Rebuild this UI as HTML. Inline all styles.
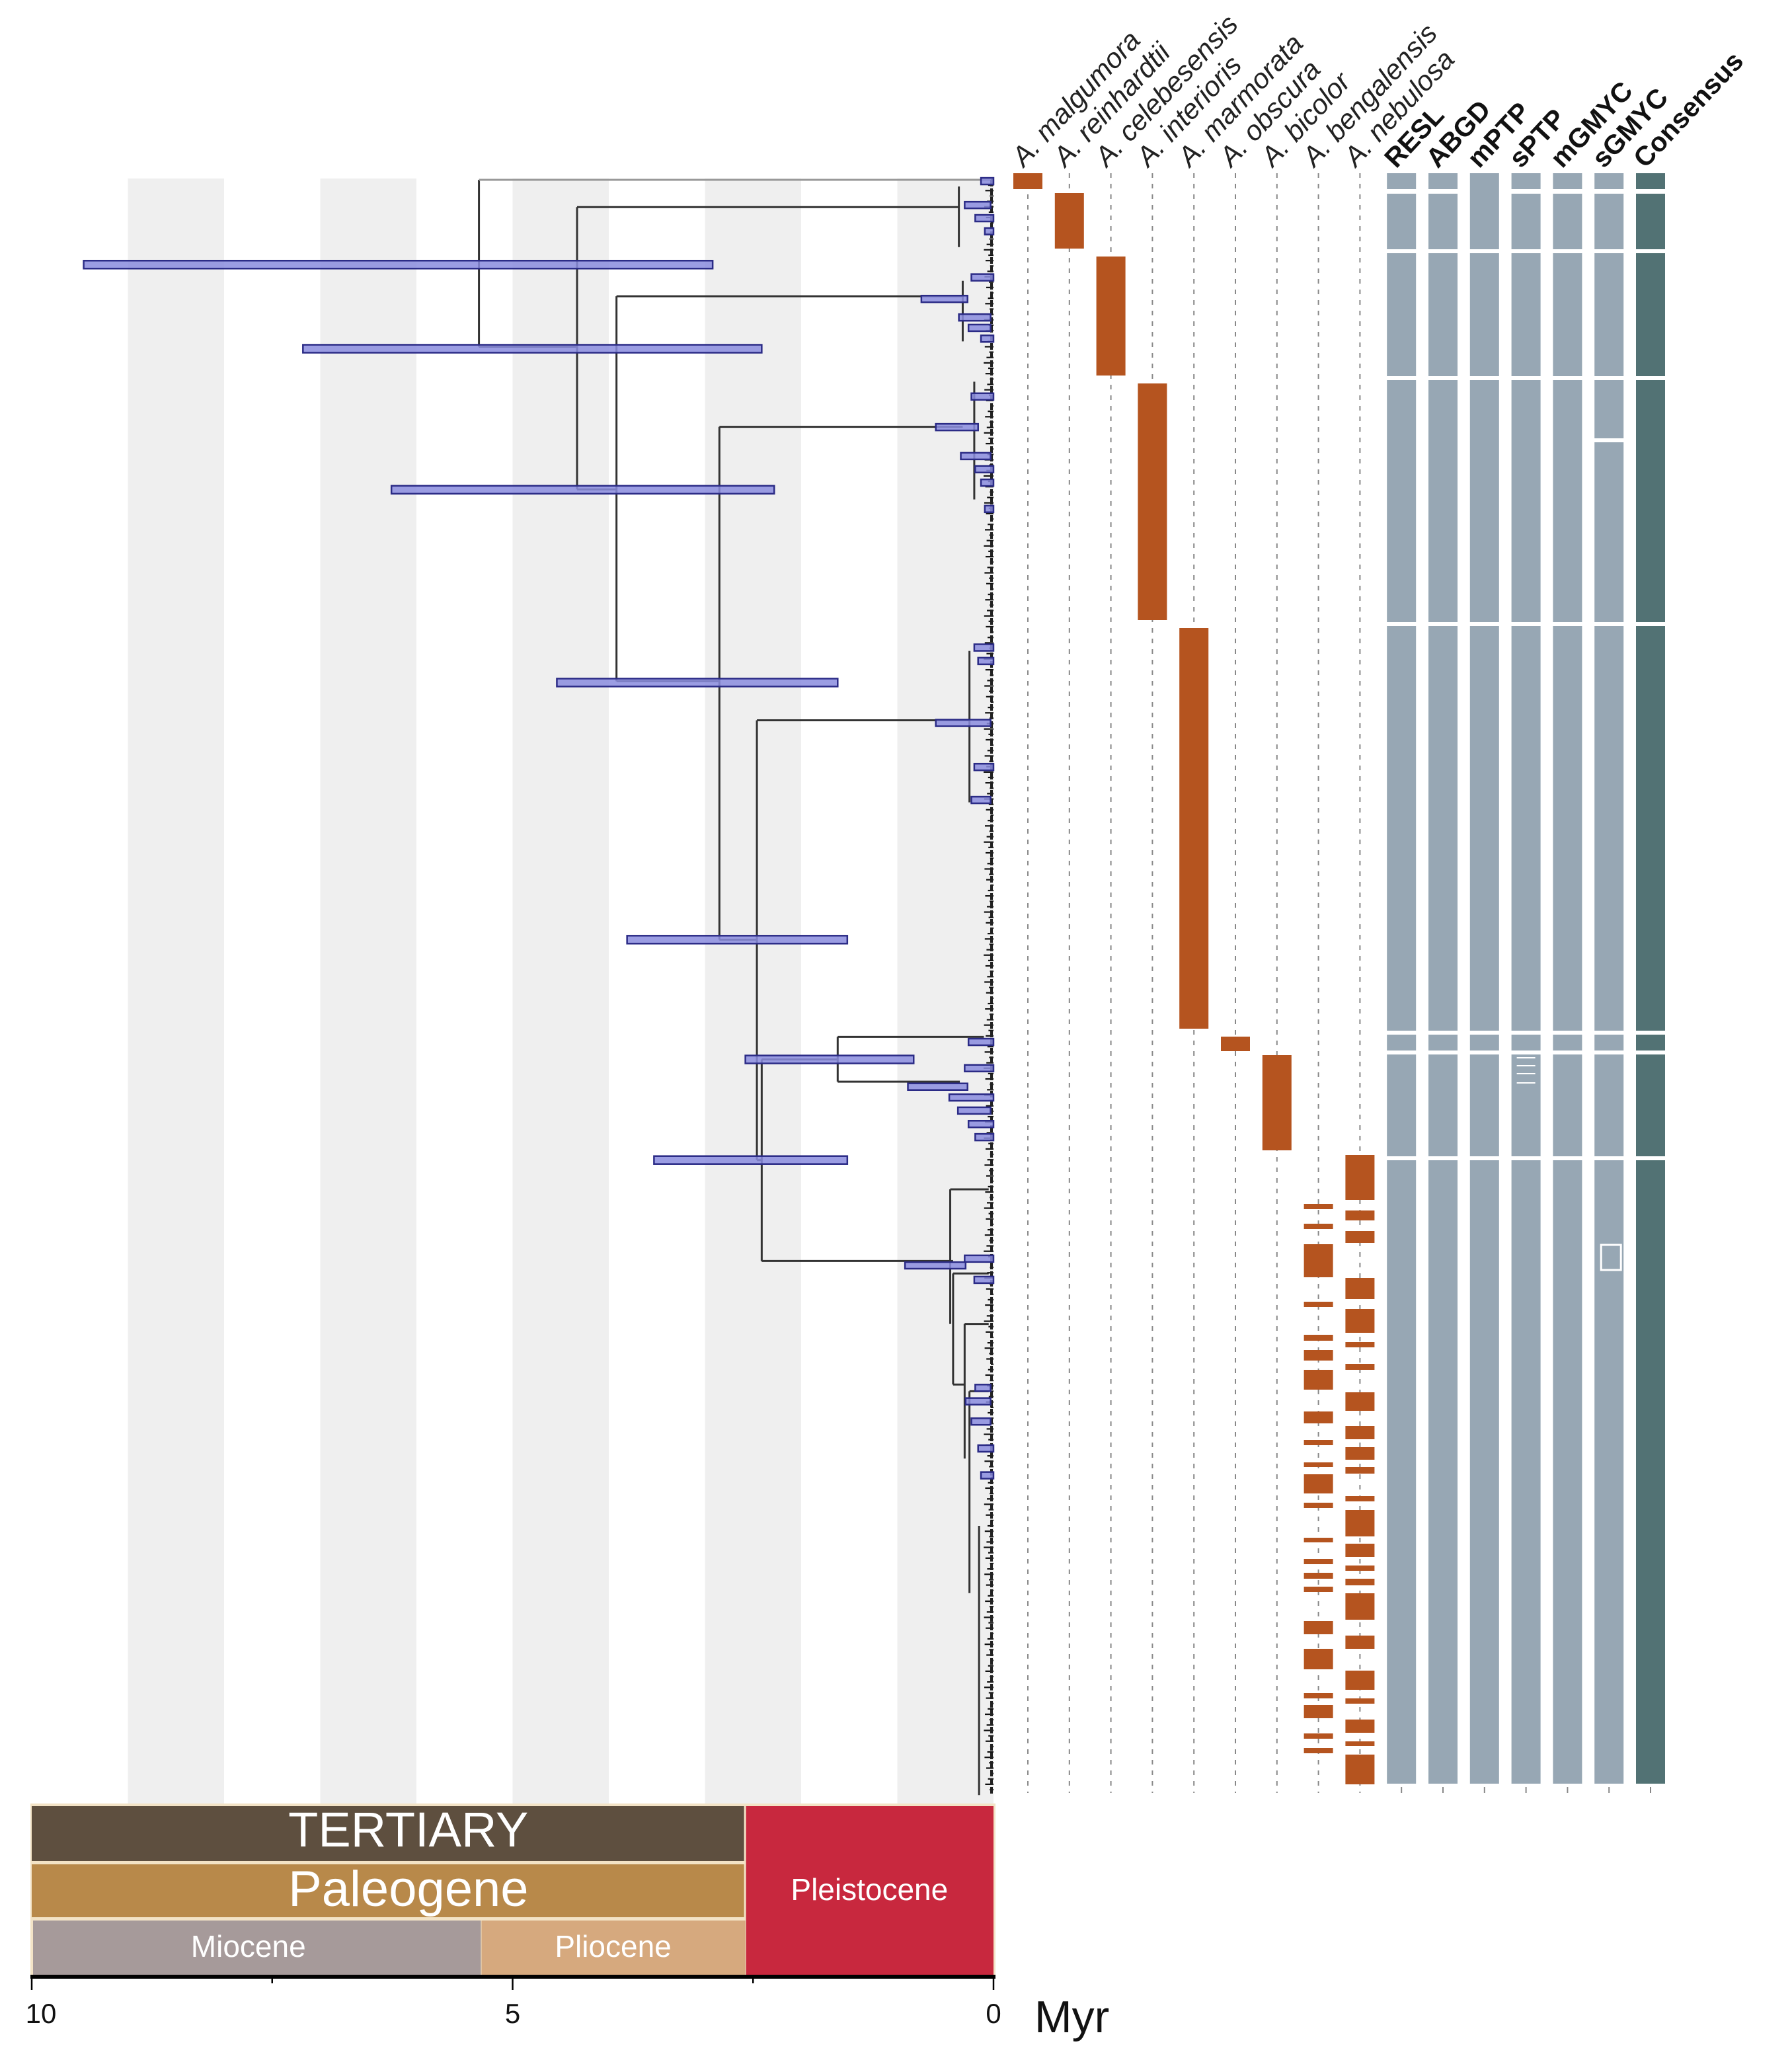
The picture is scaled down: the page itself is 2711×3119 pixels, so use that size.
<!DOCTYPE html>
<html><head><meta charset="utf-8"><style>
html,body{margin:0;padding:0;background:#fff;}
svg{display:block;}
</style></head>
<body>
<svg id="fig" xmlns="http://www.w3.org/2000/svg" width="2711" height="3119" viewBox="0 0 2711 3119" font-family="Liberation Sans, Arial, sans-serif">
<g id="bands"></g>
<g id="tree"></g>
<g id="cols"></g>
<g id="labels"></g>
<g id="scale"></g>
</svg>
<script>
// ---- data ----
const bandStarts = [9, 7, 5, 3, 1];
const axisTicks = [10, 7.5, 5, 2.5, 0];
const axisTickLabels = ["10", "", "5", "", "0"];
const epochNames = ["Miocene", "Pliocene", "Pleistocene"];
const epochStart = [10, 5.33, 2.58];
const epochEnd = [5.33, 2.58, 0];
// tree: verticals [age, rowTop, rowBottom]
const vAge = [5.35, 4.33, 3.92, 2.85, 2.46, 2.41, 1.62, 0.45, 0.42, 0.30, 0.25, 0.15, 0.36, 0.32, 0.25, 0.20];
const vTop = [0, 8.1, 34.6, 73.4, 160.6, 261.4, 254.7, 300, 325, 340, 360, 400, 2, 30, 140, 60];
const vBot = [49.6, 92, 149, 225.8, 291.3, 321.3, 268, 340, 358, 380, 420, 480, 20, 48, 185, 95];
// horizontals [fromAge, toAge, row]
const hFrom = [5.35, 5.35, 4.33, 4.33, 3.92, 3.92, 2.85, 2.85, 2.46, 2.46, 2.41, 2.41, 1.62, 1.62, 0.45, 0.45, 0.42, 0.42, 0.30, 0.25];
const hTo = [0, 4.33, 0.36, 3.92, 0.32, 2.85, 0.32, 2.46, 0.25, 2.41, 1.62, 0.45, 0.1, 0.35, 0.05, 0.42, 0.05, 0.30, 0.05, 0.05];
const hRow = [0, 49.6, 8.1, 92, 34.6, 149, 73.4, 225.8, 160.6, 291.3, 261.4, 321.3, 254.7, 268, 300, 321.3, 325, 358, 340, 360];
// node age 95% HPD bars [older, younger, row]
const ciHi = [9.46, 7.18, 6.26, 4.54, 3.81, 2.58, 3.53, 0.13, 0.30, 0.19, 0.09, 0.75, 0.23, 0.36, 0.26, 0.13, 0.60, 0.23, 0.34, 0.19, 0.13, 0.09, 0.20, 0.60, 0.16, 0.23, 0.20, 0.26, 0.30, 0.89, 0.46, 0.37, 0.26, 0.19, 0.92, 0.30, 0.20, 0.19, 0.29, 0.23, 0.16, 0.13];
const ciLo = [2.92, 2.41, 2.28, 1.62, 1.52, 0.83, 1.52, 0, 0.03, 0, 0, 0.27, 0, 0.03, 0.03, 0, 0.16, 0, 0.03, 0, 0, 0, 0, 0.03, 0, 0.03, 0, 0, 0, 0.27, 0, 0.03, 0, 0, 0.29, 0, 0, 0.03, 0.03, 0.03, 0, 0];
const ciRow = [25.2, 50.2, 92.1, 149.4, 225.8, 261.4, 291.3, 0.4, 7.5, 11.4, 15.3, 35.4, 29, 40.9, 44, 47.2, 73.5, 64.4, 82.1, 86, 90, 97.8, 139, 161.4, 143, 184.3, 174.5, 256.2, 264, 269.5, 272.7, 276.6, 280.6, 284.5, 322.6, 320.6, 326.9, 359, 363, 369, 377, 385];
// species columns
const speciesNames = ["A. malgumora","A. reinhardtii","A. celebesensis","A. interioris","A. marmorata","A. obscura","A. bicolor","A. bengalensis","A. nebulosa"];
const methodNames = ["RESL","ABGD","mPTP","sPTP","mGMYC","sGMYC","Consensus"];
const spCol = [0,1,2,3,4,5,6];
const spStart = [262,292,388,580,950,1568,1596];
const spEnd = [286,376,568,938,1556,1590,1740];
const nebStart = [1747,1831,1862,1933,1980,2030,2063,2106,2157,2189,2219,2263,2284,2335,2368,2388,2410,2474,2527,2569,2601,2634,2654];
const nebEnd = [1815,1846,1880,1965,2016,2038,2072,2134,2177,2208,2229,2271,2324,2355,2376,2398,2450,2494,2556,2577,2621,2641,2699];
const benStart = [1821,1851,1882,1969,2019,2042,2072,2135,2178,2212,2230,2273,2326,2358,2379,2400,2452,2494,2561,2579,2622,2644];
const benEnd = [1829,1859,1932,1977,2028,2058,2102,2153,2186,2219,2259,2281,2333,2366,2388,2408,2472,2525,2569,2599,2630,2652];
const segStart = [262,293,383,575,947,1565,1595,1755];
const segEnd = [286,377,569,941,1559,1589,1749,2698];

// ---- scales ----
const NS = "http://www.w3.org/2000/svg";
const X0 = 1503, PXM = 145.5;
function xT(t){ return X0 - t*PXM; }
function yR(r){ return 272 + r*5.09; }
function colX(i){ return 1555 + i*62.8; }
function mk(parent, tag, attrs){
  const e = document.createElementNS(NS, tag);
  for (const k in attrs) e.setAttribute(k, attrs[k]);
  document.getElementById(parent).appendChild(e);
  return e;
}

bandStarts.forEach((b,i)=>{
  const r = mk('bands','rect',{x:xT(b),y:270,width:PXM,height:2732-270,fill:'#efefef'});
  
  
});

vAge.forEach((a,i)=>{
  const l = mk('tree','line',{x1:xT(a),x2:xT(a),y1:yR(vTop[i]),y2:yR(vBot[i]),stroke:'#333',"stroke-width":3});
  
  
});
hFrom.forEach((a,i)=>{
  const l = mk('tree','line',{x1:xT(a),x2:xT(hTo[i]),y1:yR(hRow[i]),y2:yR(hRow[i]),stroke:i===0?'#999':'#333',"stroke-width":3});
  
  
});
for (let r=0; r<=480; r+=1.6){
  const len = 4 + ((r*37)%11);
  const l = mk('tree','line',{x1:X0-len,x2:X0,y1:yR(r),y2:yR(r),stroke:'#111',"stroke-width":2.2});
  
  
}
const tipLine = mk('tree','line',{x1:X0-3,x2:X0-3,y1:yR(0),y2:yR(480),stroke:'#222',"stroke-width":4,"stroke-dasharray":"10 3"});


ciHi.forEach((h,i)=>{
  const big = i<7;
  const hh = big?12:10;
  const r = mk('tree','rect',{x:xT(h),y:yR(ciRow[i])-hh/2,width:Math.max(xT(ciLo[i])-xT(h),6),height:hh,fill:'#8a8cde',"fill-opacity":0.85,stroke:'#2b2b86',"stroke-width":2.5});
  
  
});

speciesNames.forEach((n,i)=>{
  const l = mk('cols','line',{x1:colX(i),x2:colX(i),y1:262,y2:2712,stroke:'#888',"stroke-width":2,"stroke-dasharray":"7 9"});
  
  
});
const ORG = '#b5541f';
spCol.forEach((c,i)=>{
  const r = mk('cols','rect',{x:colX(c)-22,y:spStart[i],width:44,height:spEnd[i]-spStart[i],fill:ORG});
  
  
});
benStart.forEach((s,i)=>{
  const r = mk('cols','rect',{x:colX(7)-22,y:s,width:44,height:benEnd[i]-s,fill:ORG});
  
  
});
nebStart.forEach((s,i)=>{
  const r = mk('cols','rect',{x:colX(8)-22,y:s,width:44,height:nebEnd[i]-s,fill:ORG});
  
  
});
methodNames.forEach((m,j)=>{
  const cx = colX(9+j);
  const col = j===6?'#527274':'#97a7b4';
  segStart.forEach((s,k)=>{
    let e = segEnd[k];
    if (m==='mPTP' && k===0) return;
    let st = s;
    if (m==='mPTP' && k===1) st = 262;
    if (m==='sGMYC' && k===3){
      const r1 = mk('cols','rect',{x:cx-22,y:st,width:44,height:663-st,fill:col});
      
      
      st = 669;
    }
    const r = mk('cols','rect',{x:cx-22,y:st,width:44,height:e-st,fill:col});
    
    
  });
  const t = mk('cols','line',{x1:cx,x2:cx,y1:2703,y2:2712,stroke:'#888',"stroke-width":2});
  
  
});
[1600,1612,1624,1638].forEach(y=>{
  const l = mk('cols','line',{x1:colX(12)-14,x2:colX(12)+14,y1:y,y2:y,stroke:'#fff',"stroke-width":2});
  
  
});
const bx = mk('cols','rect',{x:colX(14)-12,y:1883,width:30,height:38,fill:'none',stroke:'#fff',"stroke-width":3});



speciesNames.forEach((n,i)=>{
  const t = mk('labels','text',{x:0,y:0,transform:`translate(${colX(i)-6},254) rotate(-47)`,"font-size":42,"font-style":"italic",fill:'#222'});
  t.textContent = n;
  
  
});
methodNames.forEach((n,j)=>{
  const t = mk('labels','text',{x:0,y:0,transform:`translate(${colX(9+j)-8},256) rotate(-47)`,"font-size":41,"font-weight":"bold",fill:'#111'});
  t.textContent = n;
  
  
});

function box(x1,x2,y1,y2,fill,name){
  const r = mk('scale','rect',{x:x1,y:y1,width:x2-x1,height:y2-y1,fill:fill});
  
  
}
function txt(x,y,s,size,name,bold){
  const t = mk('scale','text',{x:x,y:y,"font-size":size,fill:'#fff',"text-anchor":"middle","font-weight":bold?"bold":"normal"});
  t.textContent = s;
  
  
}
box(46,X0+3,2728,2990,'#f3e3c6','timescale-frame');
box(48,xT(2.58)-2,2732,2815,'#5e4f3f','tertiary-period');
box(48,xT(2.58)-2,2820,2900,'#b8894a','paleogene-period');
const epochColors = ['#a69a9a','#d6a97e','#c8283e'];
epochNames.forEach((e,i)=>{
  const y1 = i===2?2732:2905;
  box(xT(epochStart[i])+(i===0?2:1),xT(epochEnd[i]),y1,2987,epochColors[i],'epoch-'+e.toLowerCase());
});
txt((48+xT(2.58))/2+30,2817-24,"TERTIARY",74,'tertiary-label',false);
txt((48+xT(2.58))/2+30,2902-19,"Paleogene",76,'paleogene-label',false);
epochNames.forEach((e,i)=>{
  const y = i===2?2888-14:2974-14;
  txt((xT(epochStart[i])+xT(epochEnd[i]))/2-(i===0?12:0),y,e,46,'epoch-label',false);
});
const ax = mk('scale','line',{x1:46,x2:X0+3,y1:2990,y2:2990,stroke:'#000',"stroke-width":6});


axisTicks.forEach((t,i)=>{
  const major = axisTickLabels[i] !== "";
  const l = mk('scale','line',{x1:xT(t),x2:xT(t),y1:2990,y2:major?3010:3000,stroke:'#000',"stroke-width":2.5});
  
  
  if (major){
    const tx = mk('scale','text',{x:xT(t)+(t===10?14:0),y:3060,"font-size":42,fill:'#111',"text-anchor":"middle"});
    tx.textContent = axisTickLabels[i];
    
    
  }
});
const myr = mk('scale','text',{x:1565,y:3074,"font-size":68,fill:'#111'});
myr.textContent = "Myr";


</script>
</body></html>
